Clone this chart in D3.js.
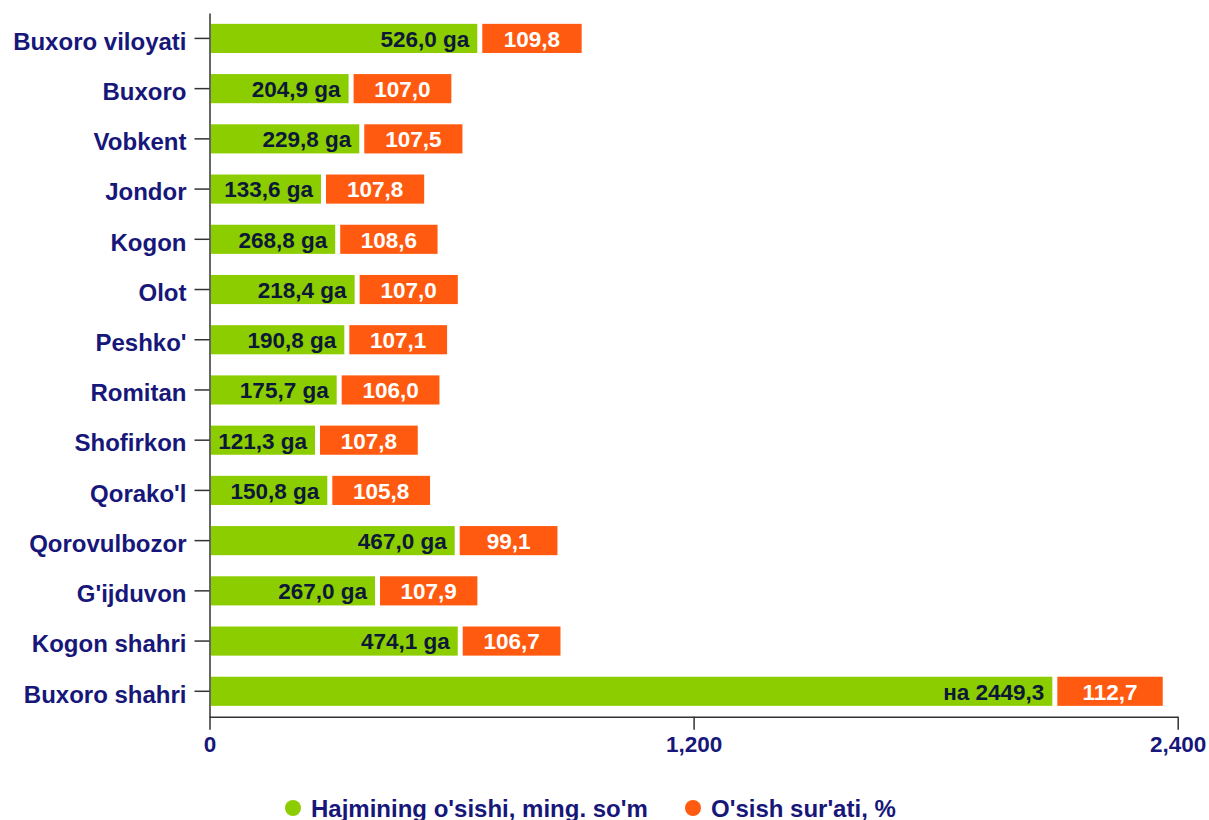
<!DOCTYPE html>
<html>
<head>
<meta charset="utf-8">
<script src="https://cdn.jsdelivr.net/npm/d3@7"></script>
<style>
  body { margin: 0; background: #fff; }
  svg text { font-family: "Liberation Sans", Arial, sans-serif; font-weight: bold; }
</style>
</head>
<body>
<script>
// data (bar lengths in axis units, labels as printed)
const categories = ["Buxoro viloyati", "Buxoro", "Vobkent", "Jondor", "Kogon", "Olot", "Peshko'",
  "Romitan", "Shofirkon", "Qorako'l", "Qorovulbozor", "G'ijduvon", "Kogon shahri", "Buxoro shahri"];
const greenValues = [670, 351, 377.5, 282.6, 317.8, 366, 340.4, 321.5, 267.7, 298.2, 614, 416.5, 621.5, 2095.4];
const orangeValues = [255, 251, 252, 252, 250, 252, 251, 251, 251, 251, 251, 250, 251, 270];
const greenLabels = ["526,0 ga", "204,9 ga", "229,8 ga", "133,6 ga", "268,8 ga", "218,4 ga", "190,8 ga",
  "175,7 ga", "121,3 ga", "150,8 ga", "467,0 ga", "267,0 ga", "474,1 ga", "на 2449,3"];
const orangeLabels = ["109,8", "107,0", "107,5", "107,8", "108,6", "107,0", "107,1",
  "106,0", "107,8", "105,8", "99,1", "107,9", "106,7", "112,7"];
const xTicks = [0, 1200, 2400];
const seriesNames = ["Hajmining o'sishi, ming. so'm", "O'sish sur'ati, %"];
const colors = ["#8ccd00", "#ff5a10"];

const width = 1209, height = 820;
const navy = "#17177a";

const svg = d3.select("body").append("svg")
  .attr("width", width)
  .attr("height", height);

const x = d3.scaleLinear().domain([0, 2400]).range([209.5, 1177.7]);
const y = d3.scaleBand().domain(categories).range([13, 716.7])
  .paddingInner(0.42).paddingOuter(0.216);

const rows = categories.map((c, i) => ({
  cat: c, g: greenValues[i], o: orangeValues[i], gl: greenLabels[i], ol: orangeLabels[i]
}));

// green part
svg.selectAll(".bar-g")
  .data(rows)
  .enter()
  .append("rect")
  .attr("class", "bar-g")
  .attr("x", x(0) + 1.5)
  .attr("y", d => y(d.cat))
  .attr("width", d => x(d.g) - 2.5 - x(0) - 1.5)
  .attr("height", y.bandwidth())
  .attr("fill", colors[0]);

// orange part, stacked after the green
svg.selectAll(".bar-o")
  .data(rows)
  .enter()
  .append("rect")
  .attr("class", "bar-o")
  .attr("x", d => x(d.g) + 2.5)
  .attr("y", d => y(d.cat))
  .attr("width", d => x(d.g + d.o) - 1 - x(d.g) - 2.5)
  .attr("height", y.bandwidth())
  .attr("fill", colors[1]);

svg.selectAll(".lab-g")
  .data(rows)
  .enter()
  .append("text")
  .attr("class", "lab-g")
  .attr("x", d => x(d.g) - 10.5)
  .attr("y", d => y(d.cat) + y.bandwidth() / 2)
  .attr("dy", "0.37em")
  .attr("text-anchor", "end")
  .attr("font-size", "22.5px")
  .attr("fill", "#0c1838")
  .text(d => d.gl);

svg.selectAll(".lab-o")
  .data(rows)
  .enter()
  .append("text")
  .attr("class", "lab-o")
  .attr("x", d => (x(d.g) + 2.5 + x(d.g + d.o) - 1) / 2)
  .attr("y", d => y(d.cat) + y.bandwidth() / 2)
  .attr("dy", "0.37em")
  .attr("text-anchor", "middle")
  .attr("font-size", "22.5px")
  .attr("fill", "#fff")
  .text(d => d.ol);

// axes
const yAxis = svg.append("g")
  .attr("transform", "translate(" + x(0) + ",0)")
  .call(d3.axisLeft(y).tickSize(15).tickPadding(8).tickSizeOuter(0));
yAxis.selectAll("text").attr("font-size", "24px").attr("fill", navy).attr("dy", "0.47em")
  .attr("font-family", "Liberation Sans, Arial, sans-serif");

const xAxis = svg.append("g")
  .attr("transform", "translate(0," + 716.7 + ")")
  .call(d3.axisBottom(x).tickValues(xTicks).tickFormat(d3.format(",")).tickSize(13).tickPadding(6).tickSizeOuter(0));
xAxis.selectAll("text").attr("font-size", "22.5px").attr("fill", navy)
  .attr("font-family", "Liberation Sans, Arial, sans-serif");

svg.selectAll(".domain").attr("stroke", "#333").attr("stroke-width", 1.5);
svg.selectAll(".tick line").attr("stroke", "#333").attr("stroke-width", 1.5);

// legend
const legendX = [293, 693];
const legend = svg.selectAll(".legend")
  .data(seriesNames)
  .enter()
  .append("g")
  .attr("class", "legend")
  .attr("transform", (d, i) => "translate(" + legendX[i] + ",808)");
legend.append("circle")
  .attr("r", 8)
  .attr("fill", (d, i) => colors[i]);
legend.append("text")
  .attr("x", 18)
  .attr("y", 8.5)
  .attr("font-size", "24px")
  .attr("fill", navy)
  .text(d => d);
</script>
</body>
</html>
